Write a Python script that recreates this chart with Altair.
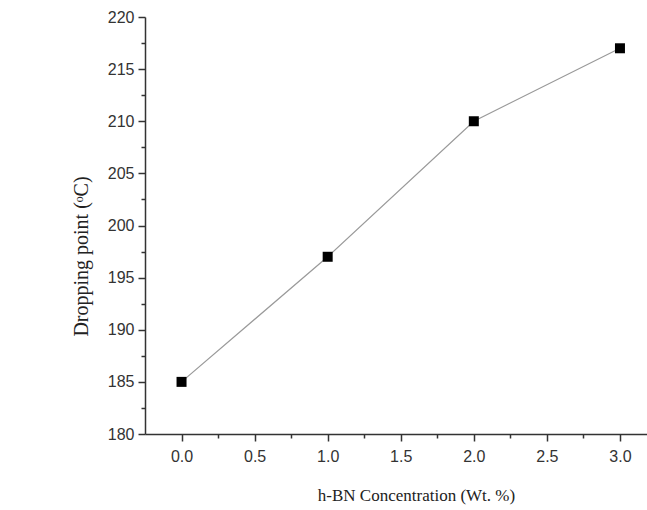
import altair as alt
import pandas as pd

conc = [0.0, 1.0, 2.0, 3.0]
dropping = [185, 197, 210, 217]

x_ticks = [i * 0.25 for i in range(0, 13)]
y_ticks = [180 + i * 2.5 for i in range(0, 17)]

df = pd.DataFrame({"conc": conc, "drop": dropping})

x_enc = alt.X(
    "conc:Q",
    scale=alt.Scale(domain=[-0.25, 3.185], nice=False, zero=False),
    axis=alt.Axis(
        title="h-BN Concentration (Wt. %)",
        values=x_ticks,
        labelExpr="datum.value % 0.5 === 0 ? format(datum.value, '.1f') : ''",
        tickSize={"condition": {"test": "datum.value % 0.5 === 0", "value": 7}, "value": 4},
        labelPadding=7,
        titleX=271,
        titleY=61,
        titleFontSize=17,
        titleBaseline="middle",
        titleAlign="center",
    ),
)
y_enc = alt.Y(
    "drop:Q",
    scale=alt.Scale(domain=[180, 220], nice=False, zero=False),
    axis=alt.Axis(
        title="Dropping point (ᵒC)",
        values=y_ticks,
        labelExpr="datum.value % 5 === 0 ? datum.label : ''",
        tickSize={"condition": {"test": "datum.value % 5 === 0", "value": 7}, "value": 4},
        labelPadding=4,
        titleX=-64,
        titleY=239,
        titleFontSize=20,
        titleBaseline="middle",
        titleAlign="center",
        titleAngle=-90,
    ),
)

base = alt.Chart(df).encode(x=x_enc, y=y_enc)
line = base.mark_line(color="#9a9a9a", strokeWidth=1.2)
pts = base.mark_point(shape="square", filled=True, color="#000000", size=100, opacity=1)

chart = (
    alt.layer(line, pts)
    .properties(
        width=502,
        height=417,
        autosize=alt.AutoSizeParams(type="none"),
        padding={"left": 145, "top": 17, "right": 0, "bottom": 76},
        background="#ffffff",
    )
    .configure_view(stroke=None)
    .configure_axis(
        grid=False,
        domainColor="#333333",
        domainWidth=1.5,
        tickColor="#333333",
        tickWidth=1.5,
        labelFont="Liberation Sans",
        labelFontSize=16,
        labelColor="#333333",
        titleFont="Liberation Serif",
        titleFontWeight="normal",
        titleColor="#222222",
    )
)

chart.save("out.html", embed_options={"renderer": "svg", "actions": False})
